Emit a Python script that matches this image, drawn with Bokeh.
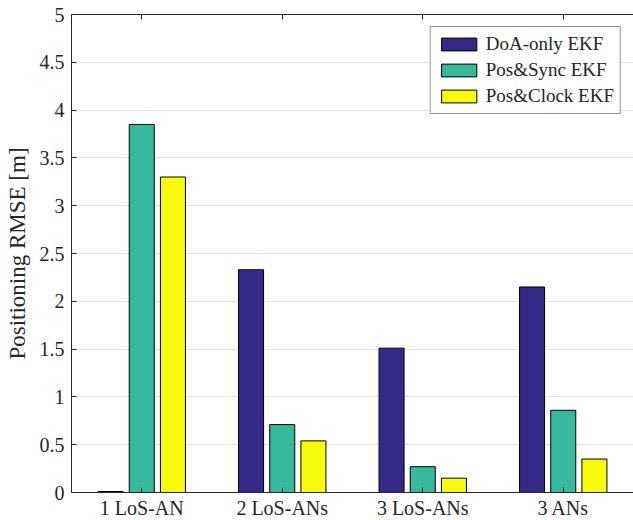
from bokeh.plotting import figure
from bokeh.models import (Range1d, FixedTicker, FactorRange, CategoricalAxis,
                          ColumnDataSource, CustomLabelingPolicy)
from bokeh.transform import dodge
from bokeh.embed import file_html
from bokeh.resources import INLINE

# ---- data ----
categories = ["1 LoS-AN", "2 LoS-ANs", "3 LoS-ANs", "3 ANs"]
series_names = ["DoA-only EKF", "Pos&Sync EKF", "Pos&Clock EKF"]
doa_only = [0.01, 2.33, 1.51, 2.15]
pos_sync = [3.85, 0.71, 0.27, 0.86]
pos_clock = [3.30, 0.54, 0.15, 0.35]
y_ticks = [0, 0.5, 1, 1.5, 2, 2.5, 3, 3.5, 4, 4.5, 5]

# ---- style ----
colors = ["#352a87", "#38b89d", "#f8fa0d"]
FONT = "Liberation Serif"
AX = "#262626"
offsets = [-0.222, 0.0, 0.222]
bar_w = 0.178

source = ColumnDataSource(dict(cat=categories, doa=doa_only, sync=pos_sync, clock=pos_clock))

p = figure(x_range=FactorRange(*categories), y_range=Range1d(0, 5),
           frame_width=562, frame_height=478,
           min_border_left=71, min_border_top=14, min_border_right=0, min_border_bottom=0,
           output_backend="svg", toolbar_location=None,
           background_fill_color="white", border_fill_color="white")
p.outline_line_color = None

for col, name, color, off in zip(["doa", "sync", "clock"], series_names, colors, offsets):
    p.vbar(x=dodge("cat", off, range=p.x_range), top=col, width=bar_w, source=source,
           fill_color=color, line_color="black", line_width=1, legend_label=name)

# y axis
p.yaxis.ticker = FixedTicker(ticks=y_ticks)
p.yaxis.major_label_overrides = {t: f"{t:g}" for t in y_ticks}
p.yaxis.axis_label = "Positioning RMSE [m]"
p.yaxis.axis_label_text_font = FONT
p.yaxis.axis_label_text_font_style = "normal"
p.yaxis.axis_label_text_font_size = "23px"
p.yaxis.axis_label_text_color = AX
p.yaxis.axis_label_standoff = 7
p.yaxis.minor_tick_line_color = None

for ax in [p.xaxis[0], p.yaxis[0]]:
    ax.major_label_text_font = FONT
    ax.major_label_text_font_size = "20px"
    ax.major_label_text_color = AX
    ax.axis_line_color = AX
    ax.axis_line_width = 1
    ax.major_tick_line_color = AX
    ax.major_tick_in = 5
    ax.major_tick_out = 0
    ax.major_label_standoff = 7

p.xaxis.major_label_standoff = 4

# top axis (box line with inward ticks, no labels)
hide_all = CustomLabelingPolicy(code="""
try { for (let i = 0; i < indices.size; i++) { indices.unset(i) } } catch (e) {}
return indices
""")
top = CategoricalAxis(major_label_text_font_size="1px", major_label_standoff=0,
                      major_label_policy=hide_all,
                      major_tick_in=5, major_tick_out=0, axis_line_color=AX,
                      major_tick_line_color=AX)
p.add_layout(top, "above")

# grid
p.xgrid.visible = False
p.ygrid.ticker = FixedTicker(ticks=y_ticks)
p.ygrid.grid_line_color = "#e3e3e3"
p.ygrid.grid_line_width = 1

# legend
lg = p.legend[0]
lg.location = "top_right"
lg.margin = 12
lg.padding = 6
lg.spacing = 4
lg.glyph_width = 44
lg.glyph_height = 16
lg.label_height = 19
lg.label_standoff = 5
lg.label_text_font = FONT
lg.label_text_font_size = "19px"
lg.label_text_color = AX
lg.border_line_color = AX
lg.border_line_width = 1
lg.background_fill_color = "white"
lg.background_fill_alpha = 1.0

open("out.html", "w").write(file_html(p, INLINE))
